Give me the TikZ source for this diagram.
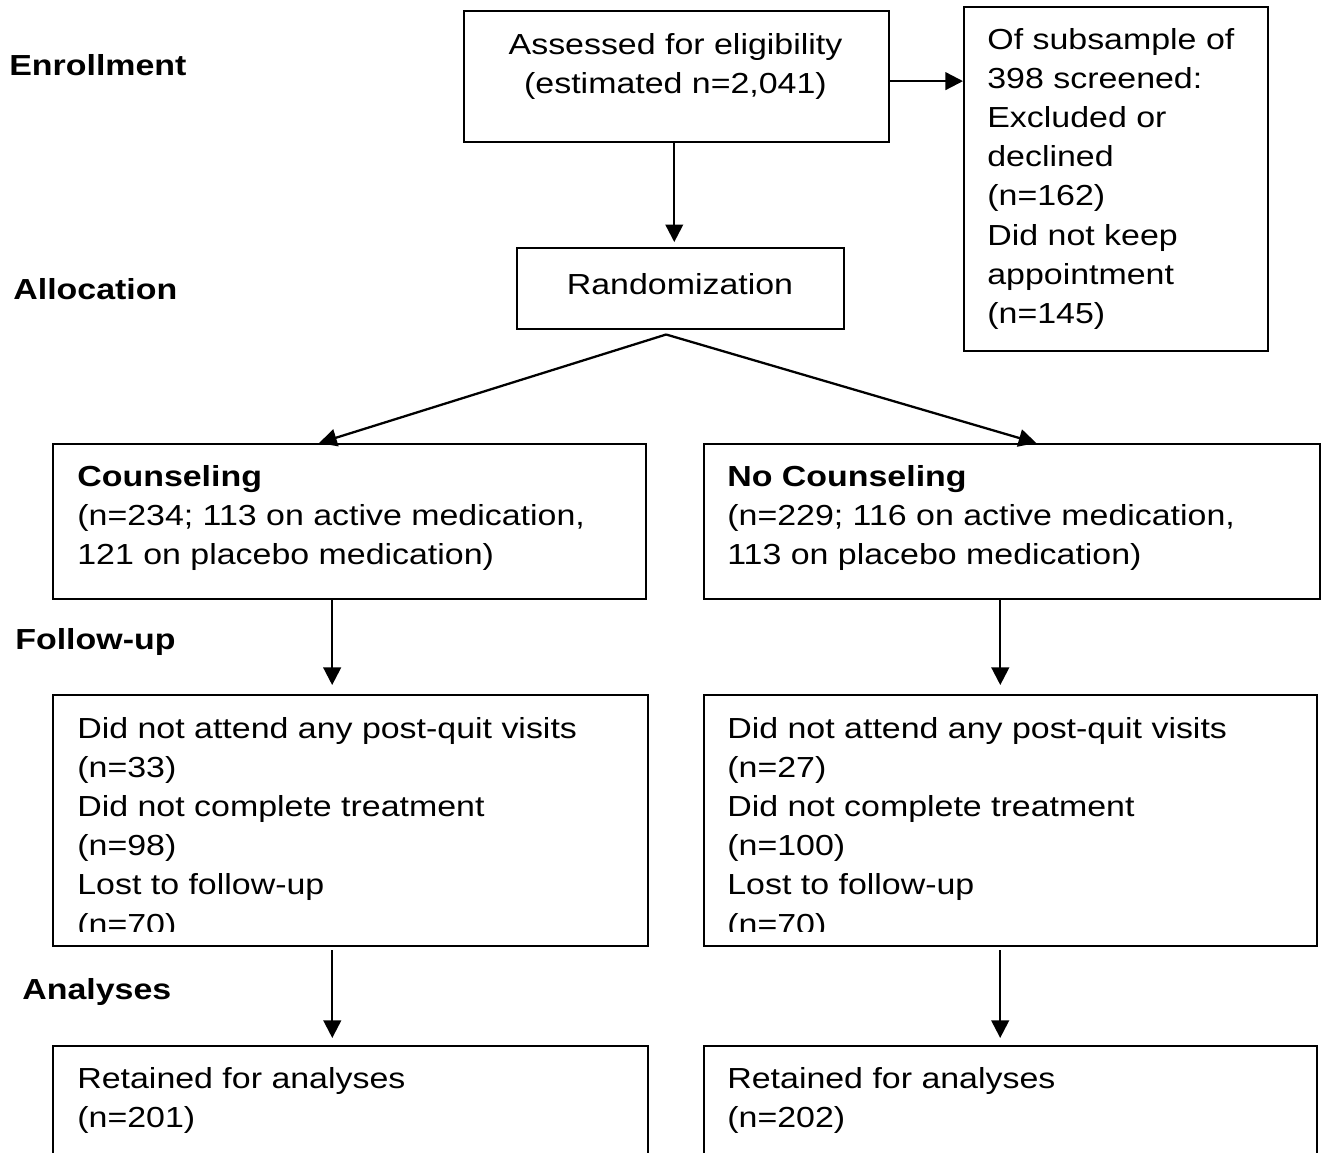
\documentclass[tikz,border=0pt]{standalone}
\usepackage{fontspec}
\setmainfont{Liberation Sans}[FakeStretch=1.17]
\usetikzlibrary{arrows.meta}

\begin{document}
\begin{tikzpicture}[x=0.02cm, y=-0.02cm,
    every node/.style={font=\fontsize{16.5}{22.3}\selectfont},
    frame/.style 2 args={draw, line width=1.4pt, anchor=north west, inner sep=0pt,
      minimum width=#1*0.02cm, minimum height=#2*0.02cm},
    txt/.style={anchor=base west, inner sep=0pt, align=left},
    ctxt/.style={anchor=base, inner sep=0pt, align=center},
    stage/.style={anchor=base west, inner sep=0pt, font=\fontsize{16.5}{22.3}\selectfont\bfseries},
    arr/.style={-{Triangle[length=10pt,width=10pt]}, line width=1.3pt}]
    \useasboundingbox (0,0) rectangle (1327,1152);
    \clip (0,0) rectangle (1327,1152);

    \node[stage] (enrol) at (9,76) {Enrollment};
    \node[stage] (alloc) at (13,299) {Allocation};
    \node[stage] (follow) at (15,649) {Follow-up};
    \node[stage] (anal) at (22,999) {Analyses};

    \node[frame={425}{131}] (assess) at (463,10) {};
    \node[ctxt] (assesstxt) at (675.5,93.2) {Assessed for eligibility\\(estimated n=2,041)};
    \node[frame={304}{344}] (excl) at (963,6) {};
    \node[txt] (excltxt) at (987,323.4) {Of subsample of\\398 screened:\\Excluded or\\declined\\(n=162)\\Did not keep\\appointment\\(n=145)};
    \node[frame={327}{81}] (rand) at (516,247) {};
    \node[ctxt] (randtxt) at (680,294) {Randomization};

    \node[frame={593}{155}] (couns) at (52,443) {};
    \node[txt] (counstxt) at (77,564.4) {\textbf{Counseling}\\(n=234; 113 on active medication,\\121 on placebo medication)};
    \node[frame={616}{155}] (nocouns) at (703,443) {};
    \node[txt] (nocounstxt) at (727,564.4) {\textbf{No Counseling}\\(n=229; 116 on active medication,\\113 on placebo medication)};

    \node[frame={595}{251}] (fuL) at (52,694) {};
    \node[frame={613}{251}] (fuR) at (703,694) {};
    \begin{scope}
      \clip (52,694) rectangle (647,931);
      \node[txt] (fuLtxt) at (77,934) {Did not attend any post-quit visits\\(n=33)\\Did not complete treatment\\(n=98)\\Lost to follow-up\\(n=70)};
    \end{scope}
    \begin{scope}
      \clip (703,694) rectangle (1316,931);
      \node[txt] (fuRtxt) at (727,934) {Did not attend any post-quit visits\\(n=27)\\Did not complete treatment\\(n=100)\\Lost to follow-up\\(n=70)};
    \end{scope}

    \node[frame={595}{150}] (retL) at (52,1045) {};
    \node[txt] (retLtxt) at (77,1127.2) {Retained for analyses\\(n=201)};
    \node[frame={613}{150}] (retR) at (703,1045) {};
    \node[txt] (retRtxt) at (727,1127.2) {Retained for analyses\\(n=202)};

    \draw[arr] ([yshift=-2.5pt]assess.east) -- ([yshift=-2.5pt]assess.east -| excl.west);
    \draw[arr, shorten >=2.8pt] ([xshift=-1.4pt]assess.south) -- ([xshift=-1.4pt]assess.south |- rand.north);
    \coordinate (split) at ([xshift=-8.3pt,yshift=-2.3pt]rand.south);
    \draw[arr] (split) -- ([xshift=-17.4pt]couns.north);
    \draw[arr] (split) -- ([xshift=13.7pt]nocouns.north);
    \draw[arr, shorten >=5.1pt] ([xshift=-10pt]couns.south) -- ([xshift=-10pt]couns.south |- fuL.north);
    \draw[arr, shorten >=5.1pt] ([xshift=-6.8pt]nocouns.south) -- ([xshift=-6.8pt]nocouns.south |- fuR.north);
    \draw[arr, shorten <=1.7pt, shorten >=4pt] ([xshift=-10.5pt]fuL.south) -- ([xshift=-10.5pt]fuL.south |- retL.north);
    \draw[arr, shorten <=1.7pt, shorten >=4pt] ([xshift=-6pt]fuR.south) -- ([xshift=-6pt]fuR.south |- retR.north);
\end{tikzpicture}
\end{document}
